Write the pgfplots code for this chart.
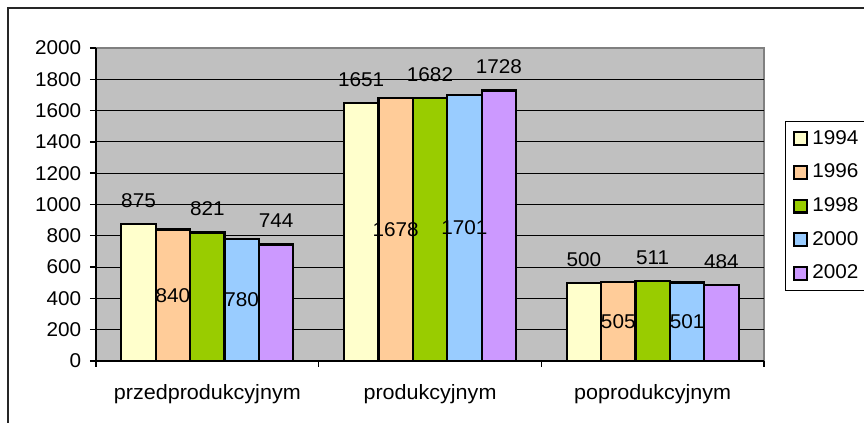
\documentclass[border=0pt]{standalone}
\usepackage{fontspec}
\setmainfont[FakeStretch=1.04]{Liberation Sans}
\usepackage{pgfplots}
\pgfplotsset{compat=1.18}
\definecolor{cA}{HTML}{FFFFCC}
\definecolor{cB}{HTML}{FFCC99}
\definecolor{cC}{HTML}{99CC00}
\definecolor{cD}{HTML}{99CCFF}
\definecolor{cE}{HTML}{CC99FF}
\definecolor{bg}{HTML}{C0C0C0}
\definecolor{frame}{HTML}{808080}
\newcommand{\lbl}{\fontsize{10}{12}\selectfont}
\newcommand{\catlbl}{\fontsize{10.4}{12}\selectfont}
\pgfplotsset{/pgf/number format/1000 sep={}, /pgf/number format/assume math mode=true}
\begin{document}
\begin{tikzpicture}
\path[use as bounding box] (0,0) rectangle (432bp,211.5bp);
\draw[line width=1bp, color=black!85] (4bp,-2bp) -- (4bp,207.5bp) -- (434bp,207.5bp);
\begin{axis}[
  at={(48bp,31bp)}, anchor=south west, scale only axis,
  width=334bp, height=156.5bp,
  xmin=-0.5, xmax=2.5, ymin=0, ymax=2000,
  enlargelimits=false,
  ytick={0,200,...,1800},
  extra y ticks={2000}, extra y tick style={grid=none},
  xtick={-0.5,0.5,1.5,2.5}, xticklabels={,,,},
  extra x ticks={0,1,2},
  extra x tick labels={przedprodukcyjnym,produkcyjnym,poprodukcyjnym},
  extra x tick style={major tick length=0pt, grid=none,
     xticklabel style={anchor=base, yshift=-19bp, font=\catlbl}},
  axis lines=left, axis line style={-, black, line width=0.7bp},
  tick align=outside, major tick length=3bp,
  tick style={black, line width=0.7bp},
  ymajorgrids, major grid style={black, line width=0.5bp},
  axis background/.style={fill=bg, draw=frame, line width=1bp},
  tick label style={font=\lbl, text=black},
  yticklabel style={anchor=east, xshift=-0.9bp},
  ybar=0pt, bar width=17.2bp,
  legend image code/.code={\draw[#1] (0bp,-3.2bp) rectangle (6.5bp,3.2bp);},
  legend cell align=left,
  legend style={at={(1.0314,0.7668)}, anchor=north west, draw=black,
     line width=0.6bp, fill=white, font=\lbl,
     inner xsep=3.6bp, inner ysep=4.3bp, row sep=8.4bp,
     nodes={inner sep=0pt},
     /tikz/every odd column/.append style={column sep=2.2bp}},
]
\addplot[fill=cA, draw=black, line width=1.1bp,
  nodes near coords, every node near coord/.append style={font=\lbl, anchor=base, yshift=8.3bp}]
  coordinates {(0,875) (1,1651) (2,500)};
\addplot[fill=cB, draw=black, line width=1.1bp,
  visualization depends on={rawy \as \rawy},
  nodes near coords, every node near coord/.append style={font=\lbl, anchor=center, yshift={-0.039125*\rawy*1bp}}]
  coordinates {(0,840) (1,1678) (2,505)};
\addplot[fill=cC, draw=black, line width=1.1bp,
  nodes near coords, every node near coord/.append style={font=\lbl, anchor=base, yshift=8.3bp}]
  coordinates {(0,821) (1,1682) (2,511)};
\addplot[fill=cD, draw=black, line width=1.1bp,
  visualization depends on={rawy \as \rawy},
  nodes near coords, every node near coord/.append style={font=\lbl, anchor=center, yshift={-0.039125*\rawy*1bp}}]
  coordinates {(0,780) (1,1701) (2,501)};
\addplot[fill=cE, draw=black, line width=1.1bp,
  nodes near coords, every node near coord/.append style={font=\lbl, anchor=base, yshift=8.3bp}]
  coordinates {(0,744) (1,1728) (2,484)};
\legend{1994,1996,1998,2000,2002}
\end{axis}
\end{tikzpicture}
\end{document}
